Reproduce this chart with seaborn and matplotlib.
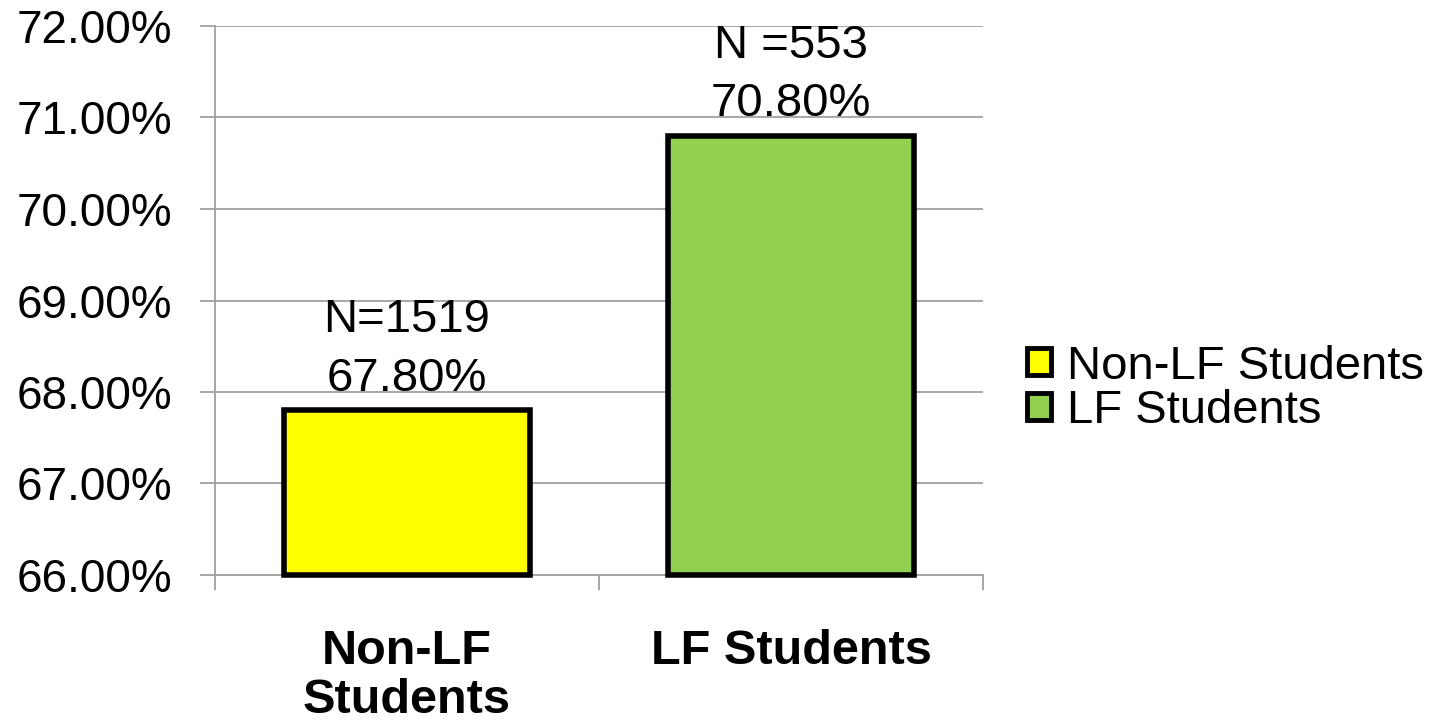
import matplotlib
matplotlib.use("Agg")
import matplotlib.pyplot as plt
import seaborn as sns
import pandas as pd
from matplotlib.patches import Patch
from matplotlib.ticker import PercentFormatter, FixedLocator

# Retention rates by student group
categories = ["Non-LF Students", "LF Students"]
tick_labels = ["Non-LF\nStudents", "LF Students"]
rates = [0.678, 0.708]
n_labels = ["N=1519", "N =553"]
bar_colors = ["#FFFF00", "#92D050"]
y_min, y_max = 0.66, 0.72

sns.set_theme(style="white")
plt.rcParams["font.family"] = ["Liberation Sans", "DejaVu Sans"]
plt.rcParams["text.color"] = "black"
plt.rcParams["xtick.color"] = "black"
plt.rcParams["ytick.color"] = "black"

df = pd.DataFrame({"group": categories, "rate": rates})

fig = plt.figure(figsize=(14.36, 7.22), dpi=100)
ax = fig.add_axes([215 / 1436, 1 - 575 / 722, (983 - 215) / 1436, (575 - 26) / 722])

sns.barplot(data=df, x="group", y="rate", hue="group", palette=bar_colors,
            saturation=1, width=0.64, edgecolor="black", linewidth=4,
            legend=False, ax=ax, zorder=3)

ax.set_ylim(y_min, y_max)
ax.set_xlim(-0.5, 1.5)

# bars start at the visible baseline so their bottom outline is drawn
for patch, val in zip(ax.patches, rates):
    patch.set_y(y_min)
    patch.set_height(val - y_min)
    patch.set_clip_on(False)

grid_color = "#A0A0A0"
ax.yaxis.set_major_locator(FixedLocator([0.66, 0.67, 0.68, 0.69, 0.70, 0.71, 0.72]))
ax.yaxis.set_major_formatter(PercentFormatter(xmax=1, decimals=2))
ax.grid(axis="y", color=grid_color, linewidth=1.3, zorder=0)
ax.set_axisbelow(True)
ax.tick_params(axis="y", which="major", left=True, length=11, width=1.3,
               color=grid_color, labelcolor="black", labelsize=33, pad=20)

# category boundaries carry the tick marks, category centres carry the labels
ax.set_xticks([-0.5, 0.5, 1.5])
ax.set_xticklabels([])
ax.set_xticks([0, 1], minor=True)
ax.set_xticklabels(tick_labels, minor=True, fontsize=35, fontweight="bold",
                   color="black")
ax.tick_params(axis="x", which="major", bottom=True, length=11, width=1.3,
               color=grid_color)
ax.tick_params(axis="x", which="minor", bottom=False, length=0, pad=39)
for lbl in ax.get_xticklabels(minor=True):
    lbl.set_linespacing(1.1)

ax.set_xlabel("")
ax.set_ylabel("")
for side in ["top", "right"]:
    ax.spines[side].set_visible(False)
for side in ["left", "bottom"]:
    ax.spines[side].set_color(grid_color)
    ax.spines[side].set_linewidth(1.3)

for i, (val, nl) in enumerate(zip(rates, n_labels)):
    ax.annotate(f"{nl}\n{val * 100:.2f}%", xy=(i, val), xytext=(0, 7),
                textcoords="offset points", ha="center", va="bottom",
                fontsize=34, linespacing=1.42, color="black")

handles = [Patch(facecolor=c, edgecolor="black", linewidth=3.5, label=l)
           for c, l in zip(bar_colors, categories)]
fig.legend(handles=handles, loc="center left", bbox_to_anchor=(1027 / 1436, 1 - 389 / 722),
           frameon=False, fontsize=34, handlelength=0.5, handleheight=0.5,
           handletextpad=0.35, labelspacing=0.02, borderpad=0, borderaxespad=0,
           labelcolor="black")

fig.savefig("out.png", dpi=100)
